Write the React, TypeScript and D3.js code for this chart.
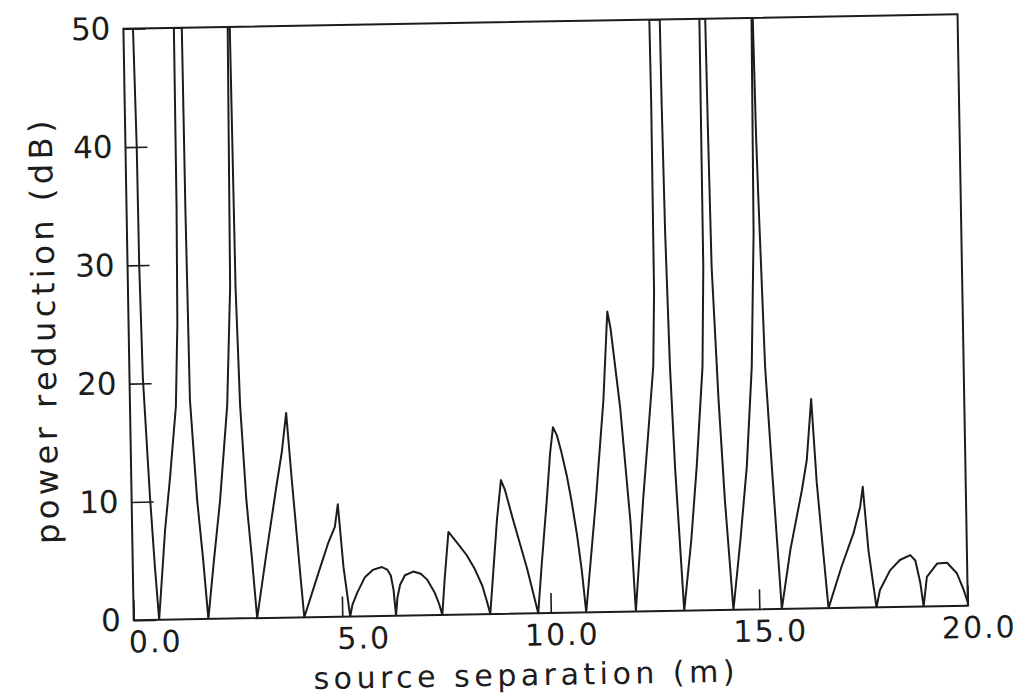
import { useEffect, useRef } from 'react';
import * as d3 from 'd3';

// source separation (m)
const separation = [
  0, 0.23, 0.27, 0.28, 0.32, 0.44, 0.53, 0.61,
  0.79, 0.93, 1.10, 1.17, 1.20, 1.21, 1.40, 1.41, 1.44, 1.57, 1.69, 1.79,
  1.95, 2.12, 2.33, 2.45, 2.50, 2.55, 2.58, 2.64, 2.75, 2.86, 2.96,
  3.22, 3.49, 3.62, 3.74, 3.84, 4.00, 4.09,
  4.44, 4.69, 4.86, 4.94, 5.05, 5.19,
  5.25, 5.37, 5.56, 5.75, 5.97, 6.10, 6.18, 6.24, 6.29,
  6.33, 6.40, 6.52, 6.72, 6.90, 7.05, 7.23, 7.33, 7.40,
  7.47, 7.58, 7.80, 8.01, 8.20, 8.37, 8.48, 8.55,
  8.65, 8.75, 8.86, 8.95, 9.13, 9.45, 9.70,
  9.80, 9.95, 10.05, 10.13, 10.22, 10.32, 10.44, 10.55, 10.66, 10.76, 10.85,
  11.13, 11.35, 11.48, 11.55, 11.75, 11.95, 12.04,
  12.26, 12.41, 12.56, 12.61, 12.62, 12.61, 12.86, 12.87, 12.90, 12.96, 13.04, 13.20,
  13.40, 13.56, 13.74, 13.80, 13.81, 13.95, 13.97, 14.00, 14.11, 14.22, 14.38,
  14.58, 14.76, 14.92, 15.02, 15.06, 15.09, 15.12, 15.15, 15.24, 15.36, 15.54,
  15.77, 16.07, 16.20, 16.33, 16.43, 16.55, 16.66,
  16.99, 17.29, 17.46, 17.53, 17.64, 17.81,
  17.90, 18.15, 18.39, 18.64, 18.76, 18.87, 18.94,
  19.03, 19.28, 19.52, 19.75, 19.90, 20.0
];

// power reduction (dB), clipped at 50 like the original
const reduction = [
  50, 50, 40, 30, 20.5, 10.5, 4.5, 0,
  7.6, 12, 18, 25, 35, 50, 50, 35, 18.5, 10.1, 5, 0,
  5, 10, 18, 28, 50, 50, 28, 18, 10, 5, 0,
  5.7, 11.4, 14, 17.3, 12, 4.2, 0,
  3.65, 6.2, 7.6, 9.5, 4.2, 0,
  1.0, 2.0, 3.3, 3.9, 4.13, 3.9, 3.4, 2.2, 0,
  1.5, 2.6, 3.4, 3.7, 3.5, 3.0, 1.85, 0.9, 0,
  3.0, 7.0, 6.0, 5.0, 3.8, 2.4, 1.0, 0,
  4, 8, 11.3, 10.5, 8.0, 3.8, 0,
  4, 9.5, 13.5, 15.7, 15.0, 13.6, 11.6, 9.3, 6.6, 3.6, 0,
  9.5, 17.9, 25.4, 24, 17.2, 7.5, 0,
  9.4, 15, 20.7, 27, 43, 50, 50, 43, 32, 20.6, 12.1, 0,
  6, 12.2, 20.6, 29, 50, 50, 40, 29, 17.8, 9.3, 0,
  6, 12.1, 20.5, 31.8, 50, 50, 40, 34.6, 20.5, 12, 0,
  5.0, 10.0, 12.55, 17.7, 10.6, 5.0, 0,
  3.5, 6.3, 8.5, 10.2, 4.85, 0,
  1.45, 3.1, 3.96, 4.36, 3.9, 2.0, 0,
  2.5, 3.6, 3.66, 2.76, 1.4, 0.3
];

const yTicks = [0, 10, 20, 30, 40, 50];
const xTicks = [0, 5, 10, 15, 20];
const xTickLabels = ['0.0', '5.0', '10.0', '15.0', '20.0'];

const App = () => {
  const canvas = useRef(null);

  useEffect(() => {
    const svg = d3.select(canvas.current);
    svg.selectAll('*').remove();

    const width = 1027, height = 697;
    const marginTop = 21.5, marginRight = 64.25, marginBottom = 84, marginLeft = 128.5;
    const ink = '#1c1c1c';
    const font = "'DejaVu Sans', sans-serif";

    const x = d3.scaleLinear().domain([0, 20]).range([marginLeft, width - marginRight]);
    const y = d3.scaleLinear().domain([0, 50]).range([height - marginBottom, marginTop]);

    // the scan is tilted by about a degree
    const cx = (marginLeft + width - marginRight) / 2;
    const cy = (marginTop + height - marginBottom) / 2;
    const g = svg.append('g').attr('transform', `rotate(-1, ${cx}, ${cy})`);

    g.append('clipPath').attr('id', 'plot-clip')
      .append('rect')
      .attr('x', x(0)).attr('y', y(50))
      .attr('width', x(20) - x(0)).attr('height', y(0) - y(50));

    // curve
    const points = separation.map((d, i) => [d, reduction[i]]);
    const line = d3.line()
      .x((d) => x(d[0]))
      .y((d) => y(d[1]));
    g.append('path')
      .datum(points)
      .attr('clip-path', 'url(#plot-clip)')
      .attr('fill', 'none')
      .attr('stroke', ink)
      .attr('stroke-width', 2)
      .attr('stroke-linejoin', 'round')
      .attr('d', line);

    // y axis
    const yAxis = g.append('g')
      .attr('transform', `translate(${x(0)},0)`)
      .call(d3.axisLeft(y).tickValues(yTicks).tickSize(-22).tickPadding(13).tickFormat(d3.format('d')));
    yAxis.select('.domain').remove();
    yAxis.selectAll('line').attr('stroke', ink).attr('stroke-width', 1.6);
    yAxis.selectAll('text')
      .attr('fill', ink)
      .attr('font-size', 31)
      .attr('font-family', font);

    // x axis
    const xAxis = g.append('g')
      .attr('transform', `translate(0,${y(0)})`)
      .call(d3.axisBottom(x).tickValues(xTicks).tickSize(-20).tickPadding(11)
        .tickFormat((d, i) => xTickLabels[i]));
    xAxis.select('.domain').remove();
    xAxis.selectAll('line').attr('stroke', ink).attr('stroke-width', 1.6);
    xAxis.selectAll('text')
      .attr('fill', ink)
      .attr('font-size', 30)
      .attr('letter-spacing', 2)
      .attr('font-family', font)
      .attr('text-anchor', 'end')
      .attr('x', 48);

    // frame
    g.append('rect')
      .attr('x', x(0)).attr('y', y(50))
      .attr('width', x(20) - x(0)).attr('height', y(0) - y(50))
      .attr('fill', 'none')
      .attr('stroke', ink)
      .attr('stroke-width', 2);

    // axis titles
    g.append('text')
      .attr('x', 520).attr('y', 685)
      .attr('text-anchor', 'middle')
      .attr('font-size', 30)
      .attr('letter-spacing', 4.5)
      .attr('font-family', font)
      .attr('fill', ink)
      .text('source separation (m)');

    g.append('text')
      .attr('transform', `translate(55,${cy + 4}) rotate(-90)`)
      .attr('text-anchor', 'middle')
      .attr('font-size', 32)
      .attr('letter-spacing', 4.5)
      .attr('font-family', font)
      .attr('fill', ink)
      .text('power reduction (dB)');
  }, []);

  return (
    <svg
      ref={canvas}
      width={1027}
      height={697}
      style={{ position: 'absolute', left: 0, top: 0, background: '#fff' }}
    />
  );
};

export default App;
